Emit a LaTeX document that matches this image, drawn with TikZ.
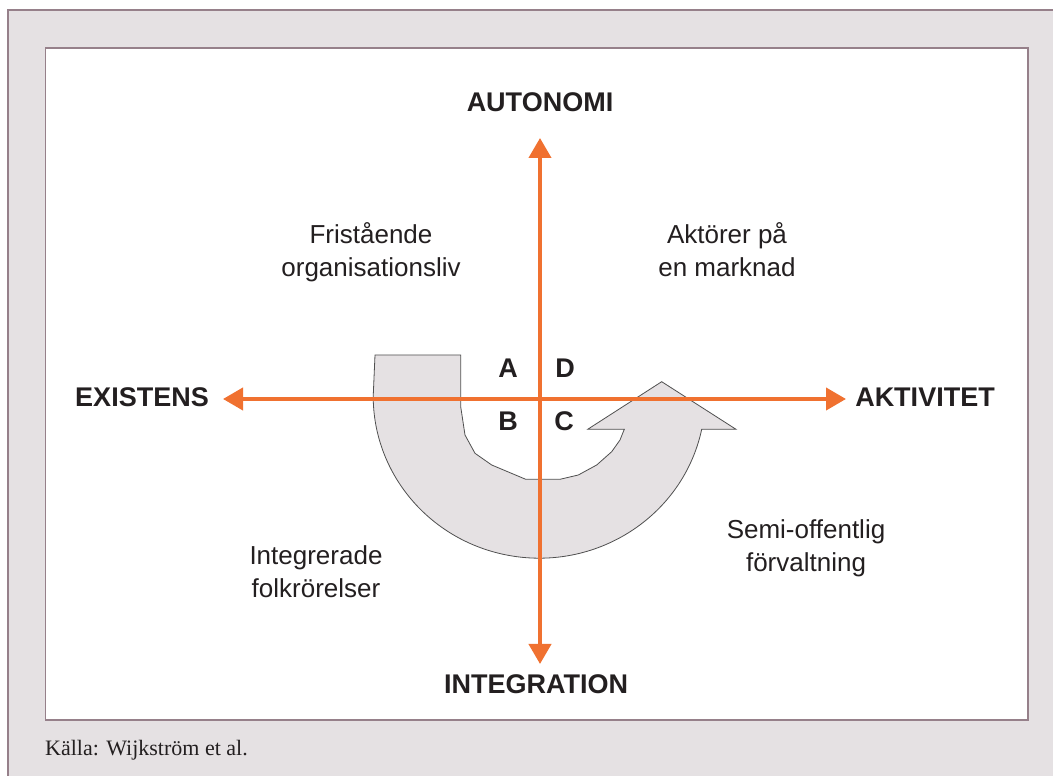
\documentclass[tikz,border=0pt]{standalone}
\usepackage{fontspec}
\setmainfont{Liberation Sans}
\newfontfamily\capfont{Liberation Serif}
\usetikzlibrary{arrows.meta}
\definecolor{framebg}{RGB}{229,225,227}
\definecolor{frameline}{RGB}{150,128,138}
\definecolor{axisorange}{RGB}{240,113,48}
\definecolor{shapefill}{RGB}{229,225,227}
\definecolor{shapeline}{RGB}{80,80,80}
\definecolor{textdark}{RGB}{35,31,32}
\tikzset{
  axis/.style={draw=axisorange, line width=4pt, {Triangle[length=20pt,width=22pt]}-{Triangle[length=20pt,width=22pt]}},
  axislabel/.style={font=\fontsize{27}{32}\selectfont\bfseries, text=textdark, inner sep=0pt, anchor=base},
  quadletter/.style={font=\fontsize{27}{32}\selectfont\bfseries, text=textdark, inner sep=0pt, anchor=base},
  quadlabel/.style={font=\fontsize{26}{33}\selectfont, text=textdark, inner sep=0pt, anchor=base, align=center},
  captext/.style={font=\capfont\fontsize{22}{26}\selectfont, text=textdark, inner sep=0pt, anchor=base west},
}
\begin{document}
\begin{tikzpicture}[x=1pt,y=1pt]
\useasboundingbox (0,0) rectangle (1053,776);
\clip (0,0) rectangle (1053,776);
\fill[white] (0,0) rectangle (1053,776);
% outer frame
\draw[fill=framebg, draw=frameline, line width=2pt] (7.5,765.5) rectangle (1070,-20);
% inner panel
\draw[fill=white, draw=frameline, line width=1.5pt] (45.5,728) rectangle (1028,56);
% curved arrow
\draw[fill=shapefill, draw=shapeline, line width=0.8pt]
  (375,421) -- (460.7,421) -- (460.7,369.3) -- (465,341) -- (475,322.7) -- (491.7,311)
  -- (525.7,296.7) -- (560,296.7) -- (578.3,301) -- (596.7,311) -- (611.7,324.3)
  -- (620,336) -- (624.3,346.7) -- (587.7,346.7) -- (661.7,394.3) -- (736,346.7)
  -- (701.7,346.7) arc[start angle=-11.8, end angle=-180, x radius=166, y radius=162] -- cycle;
% axis end points
\coordinate (top) at (540,638);
\coordinate (bottom) at (540,112);
\coordinate (left) at (223,377);
\coordinate (right) at (846,377);
\draw[axis] (bottom) -- (top);
\draw[axis] (left) -- (right);
% axis labels
\node[axislabel] (autonomi) at (540,664) {AUTONOMI};
\node[axislabel] (integration) at (536,82) {INTEGRATION};
\node[axislabel] (existens) at (142,369) {EXISTENS};
\node[axislabel] (aktivitet) at (925,369) {AKTIVITET};
% quadrant letters
\node[quadletter] (qa) at (508,398) {A};
\node[quadletter] (qd) at (565,398) {D};
\node[quadletter] (qb) at (508,345) {B};
\node[quadletter] (qc) at (564,345) {C};
% quadrant labels (base anchor = last line)
\node[quadlabel] (fri) at (371,499) {Fristående\\organisationsliv};
\node[quadlabel] (akt) at (727,499) {Aktörer på\\en marknad};
\node[quadlabel] (int) at (316,178) {Integrerade\\folkrörelser};
\node[quadlabel] (semi) at (806,204) {Semi-offentlig\\förvaltning};
% caption
\node[captext] (cap) at (45,20) {Källa: Wijkström et al.};
\end{tikzpicture}
\end{document}
